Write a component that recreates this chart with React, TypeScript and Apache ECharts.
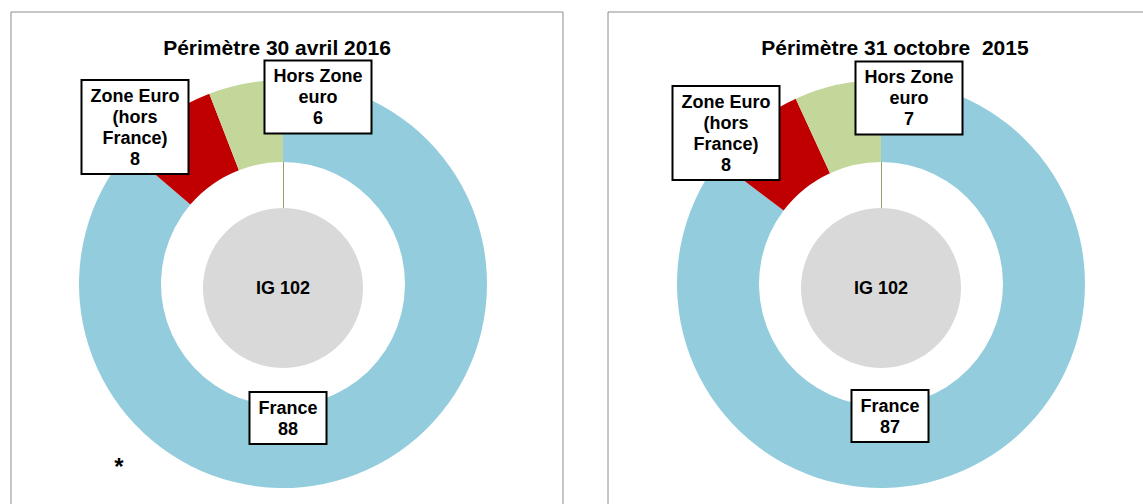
import React, { useEffect, useRef } from "react";
import * as echarts from "echarts";

const categories = ["France", "Zone Euro\n(hors\nFrance)", "Hors Zone\neuro"];
const colors = ["#93CDDD", "#C00000", "#C4D79B"];
const valuesApr2016 = [88, 8, 6];
const valuesOct2015 = [87, 8, 7];
const titles = ["Périmètre 30 avril 2016", "Périmètre 31 octobre  2015"];
const centerLabel = "IG";
const footnote = "*";

const FONT = "'Liberation Sans', Arial, sans-serif";

// label box centres [France, Zone Euro, Hors Zone] for each panel
const labelPos = [
  [[288, 418], [135, 127], [318, 97]],
  [[890, 416], [726, 133], [909, 98]],
];
const centers = [[283, 284], [881, 284]];

export default function App() {
  const ref = useRef<HTMLDivElement>(null);
  useEffect(() => {
    document.body.style.margin = "0";
    const chart = echarts.init(ref.current!, null, { renderer: "svg" });
    const datasets = [valuesApr2016, valuesOct2015];
    const series: any[] = [];
    datasets.forEach((vals, p) => {
      const total = vals.reduce((a, b) => a + b, 0);
      series.push({
        type: "pie",
        center: centers[p],
        radius: [122, 204],
        startAngle: 90,
        clockwise: true,
        avoidLabelOverlap: false,
        silent: true,
        labelLine: { show: false },
        itemStyle: { borderWidth: 0 },
        label: {
          show: true,
          formatter: "{b}\n{c}",
          fontFamily: FONT,
          fontSize: 18,
          fontWeight: "bold",
          lineHeight: 21,
          color: "#000",
          backgroundColor: "#fff",
          borderColor: "#000",
          borderWidth: 2,
          padding: [5, 8, 3, 8],
          align: "center",
        },
        labelLayout: (params: any) => {
          const pos = labelPos[p][params.dataIndex];
          return { x: pos[0], y: pos[1], align: "center", verticalAlign: "middle" };
        },
        data: vals.map((v, i) => ({
          name: categories[i],
          value: v,
          itemStyle: { color: colors[i] },
        })),
      });
      series.push({
        type: "pie",
        center: [centers[p][0], centers[p][1] + 4],
        radius: [0, 80],
        silent: true,
        labelLine: { show: false },
        label: {
          show: true,
          position: "center",
          formatter: "{b} {c}",
          fontFamily: FONT,
          fontSize: 18,
          fontWeight: "bold",
          color: "#000",
        },
        itemStyle: { color: "#D9D9D9" },
        data: [{ name: centerLabel, value: total }],
      });
    });

    chart.setOption({
      animation: false,
      backgroundColor: "#fff",
      series,
      graphic: [
        {
          type: "rect",
          shape: { x: 11, y: 12, width: 552, height: 520 },
          style: { fill: "none", stroke: "#8c8c8c", lineWidth: 1 },
          z: -1,
        },
        {
          type: "rect",
          shape: { x: 608, y: 12, width: 560, height: 520 },
          style: { fill: "none", stroke: "#8c8c8c", lineWidth: 1 },
          z: -1,
        },
        {
          type: "text",
          x: 277,
          y: 47,
          style: {
            text: titles[0],
            font: `bold 21px ${FONT}`,
            textAlign: "center",
            textVerticalAlign: "middle",
            fill: "#000",
          },
        },
        {
          type: "text",
          x: 895,
          y: 47,
          style: {
            text: titles[1],
            font: `bold 21px ${FONT}`,
            textAlign: "center",
            textVerticalAlign: "middle",
            fill: "#000",
          },
        },
        {
          type: "line",
          shape: { x1: 283.5, y1: 162, x2: 283.5, y2: 208 },
          style: { stroke: "#9c9c6c", lineWidth: 1 },
        },
        {
          type: "line",
          shape: { x1: 881.5, y1: 162, x2: 881.5, y2: 208 },
          style: { stroke: "#9c9c6c", lineWidth: 1 },
        },
        {
          type: "text",
          x: 119,
          y: 466,
          style: {
            text: footnote,
            font: `bold 24px ${FONT}`,
            textAlign: "center",
            textVerticalAlign: "middle",
            fill: "#000",
          },
        },
      ],
    });
    return () => chart.dispose();
  }, []);
  return <div ref={ref} style={{ width: 1143, height: 504 }} />;
}
